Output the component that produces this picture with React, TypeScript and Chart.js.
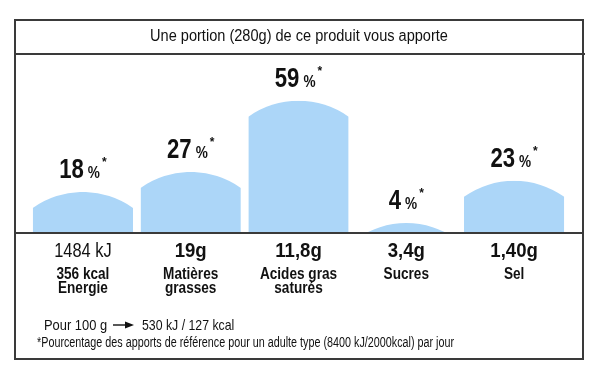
import React, { useEffect, useRef } from 'react';
import { Chart, registerables } from 'chart.js';

Chart.register(...registerables);

// ---------- data ----------
const TITLE = 'Une portion (280g) de ce produit vous apporte';
const categories = ['Energie', 'Matières grasses', 'Acides gras saturés', 'Sucres', 'Sel'];
const percentValues = [18, 27, 59, 4, 23];
const amountLabels = ['1484 kJ', '19g', '11,8g', '3,4g', '1,40g'];
const nameLines = [['356 kcal', 'Energie'], ['Matières', 'grasses'], ['Acides gras', 'saturés'], ['Sucres'], ['Sel']];
const per100Label = 'Pour 100 g';
const per100Value = '530 kJ / 127 kcal';
const FOOTNOTE = '*Pourcentage des apports de référence pour un adulte type (8400 kJ/2000kcal) par jour';
const Y_MAX = 80;

// ---------- style ----------
const FONT = "'Liberation Sans', Arial, sans-serif";
const BAR_COLOR = '#acd6f8';
const INK = '#111111';
const FRAME = '#3a3a3a';
const BOX = { left: 15, right: 583, top: 20, bottom: 359, titleLine: 54 };
const ARCH = 16;

function setFont(ctx: CanvasRenderingContext2D, weight: string, size: number) {
  ctx.font = `${weight} ${size}px ${FONT}`;
}

function drawText(
  ctx: CanvasRenderingContext2D,
  text: string,
  x: number,
  y: number,
  weight: string,
  size: number,
  sx: number,
  align: CanvasTextAlign = 'center'
) {
  ctx.save();
  setFont(ctx, weight, size);
  ctx.fillStyle = INK;
  ctx.textAlign = align;
  ctx.textBaseline = 'alphabetic';
  ctx.translate(x, y);
  ctx.scale(sx, 1);
  ctx.fillText(text, 0, 0);
  ctx.restore();
}

function textWidth(ctx: CanvasRenderingContext2D, text: string, weight: string, size: number, sx: number) {
  ctx.save();
  setFont(ctx, weight, size);
  const w = ctx.measureText(text).width * sx;
  ctx.restore();
  return w;
}

const labelPlugin = {
  id: 'nutriLabel',
  beforeDraw(chart: any) {
    const ctx = chart.ctx as CanvasRenderingContext2D;
    ctx.save();
    ctx.fillStyle = '#ffffff';
    ctx.fillRect(0, 0, chart.width, chart.height);
    ctx.restore();
  },
  afterDatasetsDraw(chart: any) {
    const ctx = chart.ctx as CanvasRenderingContext2D;
    const meta = chart.getDatasetMeta(0);
    const area = chart.chartArea;

    // arched bars
    meta.data.forEach((el: any) => {
      const { x, y, base, width } = el.getProps(['x', 'y', 'base', 'width'], true);
      const half = width / 2;
      const s = ARCH;
      const R = (half * half + s * s) / (2 * s);
      ctx.save();
      ctx.beginPath();
      ctx.rect(x - half, Math.min(y, base), width, Math.abs(base - y));
      ctx.clip();
      ctx.beginPath();
      ctx.moveTo(x - half, base);
      ctx.lineTo(x - half, y + s);
      const a0 = Math.atan2(s - R, -half);
      const a1 = Math.atan2(s - R, half);
      ctx.arc(x, y + R, R, a0, a1, false);
      ctx.lineTo(x + half, base);
      ctx.closePath();
      ctx.fillStyle = BAR_COLOR;
      ctx.fill();
      ctx.restore();
    });

    // frame
    ctx.save();
    ctx.strokeStyle = FRAME;
    ctx.lineWidth = 2;
    ctx.strokeRect(BOX.left, BOX.top, BOX.right - BOX.left, BOX.bottom - BOX.top);
    ctx.beginPath();
    ctx.moveTo(BOX.left, BOX.titleLine);
    ctx.lineTo(BOX.right + 2, BOX.titleLine);
    ctx.moveTo(BOX.left, area.bottom + 1);
    ctx.lineTo(BOX.right, area.bottom + 1);
    ctx.stroke();
    ctx.restore();

    // title
    drawText(ctx, TITLE, (BOX.left + BOX.right) / 2, 41, '500', 16, 0.91);

    // percent labels above bars
    meta.data.forEach((el: any, i: number) => {
      const { x, y } = el.getProps(['x', 'y'], true);
      const num = String(percentValues[i]);
      const wN = textWidth(ctx, num, 'bold', 27, 0.82);
      const wP = textWidth(ctx, '%', 'bold', 16, 0.85);
      const wA = textWidth(ctx, '*', 'bold', 12, 1);
      const g1 = 4;
      const g2 = 2;
      const total = wN + g1 + wP + g2 + wA;
      let cx = x - total / 2;
      const bl = y - 14;
      drawText(ctx, num, cx, bl, 'bold', 27, 0.82, 'left');
      cx += wN + g1;
      drawText(ctx, '%', cx, bl, 'bold', 16, 0.85, 'left');
      cx += wP + g2;
      drawText(ctx, '*', cx, bl - 12, 'bold', 12, 1, 'left');
    });

    // category labels under the axis
    const xScale = chart.scales.x;
    categories.forEach((_c, i) => {
      const px = xScale.getPixelForValue(i);
      if (i === 0) {
        drawText(ctx, amountLabels[i], px, 257, 'normal', 20, 0.82);
      } else {
        drawText(ctx, amountLabels[i], px, 257, 'bold', 20, 0.93);
      }
      nameLines[i].forEach((line, j) => {
        drawText(ctx, line, px, 279 + j * 14, 'bold', 16, 0.85);
      });
    });

    // footer
    drawText(ctx, per100Label, 44, 330, 'normal', 15, 0.86, 'left');
    // arrow
    ctx.save();
    ctx.strokeStyle = INK;
    ctx.fillStyle = INK;
    ctx.lineWidth = 1.4;
    ctx.beginPath();
    ctx.moveTo(113, 325);
    ctx.lineTo(127, 325);
    ctx.stroke();
    ctx.beginPath();
    ctx.moveTo(134, 325);
    ctx.lineTo(125, 321.5);
    ctx.lineTo(125, 328.5);
    ctx.closePath();
    ctx.fill();
    ctx.restore();
    drawText(ctx, per100Value, 142, 330, 'normal', 15, 0.82, 'left');
    drawText(ctx, FOOTNOTE, 37, 347, 'normal', 14, 0.77, 'left');
  },
};

export default function App() {
  const canvasRef = useRef<HTMLCanvasElement | null>(null);

  useEffect(() => {
    const canvas = canvasRef.current;
    if (!canvas) return;
    const chart = new Chart(canvas, {
      type: 'bar',
      data: {
        labels: categories,
        datasets: [
          {
            data: percentValues,
            backgroundColor: 'rgba(0,0,0,0)',
            borderWidth: 0,
            barPercentage: 0.93,
            categoryPercentage: 1,
          },
        ],
      },
      options: {
        responsive: false,
        animation: false,
        devicePixelRatio: 1,
        layout: { padding: { left: 29, right: 35, top: 54, bottom: 154 } },
        plugins: {
          legend: { display: false },
          title: { display: false },
          tooltip: { enabled: false },
        },
        scales: {
          x: { display: false },
          y: { display: false, min: 0, max: Y_MAX },
        },
      },
      plugins: [labelPlugin],
    });
    return () => chart.destroy();
  }, []);

  return (
    <div style={{ position: 'fixed', left: 0, top: 0, width: 603, height: 386, background: '#fff' }}>
      <canvas ref={canvasRef} width={603} height={386} style={{ display: 'block' }} />
    </div>
  );
}
